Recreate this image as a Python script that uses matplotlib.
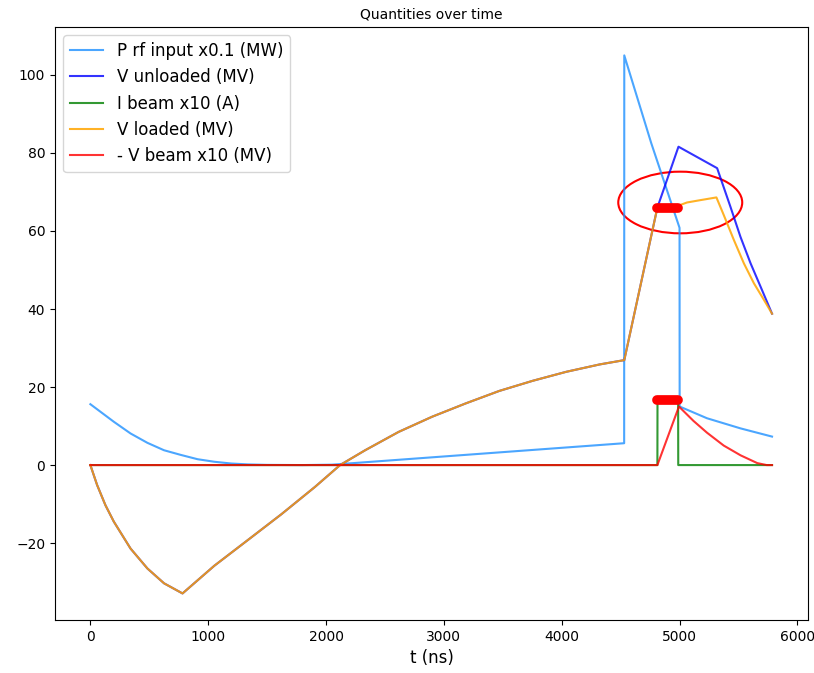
import matplotlib
matplotlib.use("Agg")
import matplotlib.pyplot as plt
from matplotlib.patches import Ellipse

# Values (t in ns)
t_rf = [0, 199, 341, 484, 625, 768, 910, 1052, 1195, 1337, 1500, 1800, 2050,
        4530, 4531, 4760, 5000, 5001, 5233, 5518, 5785]
p_rf = [15.6, 11.1, 8.1, 5.7, 3.8, 2.6, 1.5, 0.85, 0.4, 0.17, 0.05, 0.0, 0.1,
        5.6, 105.0, 82.5, 60.8, 15.0, 12.0, 9.4, 7.3]

t_unl = [0, 57, 128, 199, 341, 484, 625, 782, 1052, 1337, 1621, 1906, 2119,
         2332, 2616, 2901, 3185, 3470, 3754, 4038, 4323, 4531, 4812, 4991,
         5319, 5432, 5517, 5603, 5688, 5785]
v_unl = [0, -5.1, -10.3, -14.5, -21.4, -26.5, -30.3, -32.9, -25.8, -19.2, -12.6, -5.6, 0.0,
         3.8, 8.5, 12.4, 15.8, 19.0, 21.6, 23.9, 25.8, 26.9, 66.0, 81.6,
         76.1, 66.2, 58.5, 51.7, 45.7, 38.8]

t_beam = [0, 4812, 4813, 4988, 4989, 5785]
i_beam = [0, 0, 16.6, 16.6, 0, 0]

t_load = [0, 57, 128, 199, 341, 484, 625, 782, 1052, 1337, 1621, 1906, 2119,
          2332, 2616, 2901, 3185, 3470, 3754, 4038, 4323, 4531, 4812, 5000,
          5063, 5176, 5313, 5375, 5461, 5546, 5631, 5717, 5785]
v_load = [0, -5.1, -10.3, -14.5, -21.4, -26.5, -30.3, -32.9, -25.8, -19.2, -12.6, -5.6, 0.0,
          3.8, 8.5, 12.4, 15.8, 19.0, 21.6, 23.9, 25.8, 26.9, 66.0, 66.6,
          67.3, 67.9, 68.6, 64.1, 57.7, 51.7, 46.6, 42.3, 38.8]

t_vb = [0, 4812, 4995, 5119, 5233, 5375, 5518, 5660, 5740, 5785]
v_vb = [0, 0, 15.0, 11.3, 8.3, 5.0, 2.5, 0.5, 0.0, 0.0]

# flat top of the beam pulse, highlighted
flat_t = [4812, 4990]
flat_i = [16.6, 16.6]
flat_v = [66.0, 66.0]

fig = plt.figure(figsize=(8.14, 6.73), dpi=100)
ax = fig.add_axes([0.0676, 0.0788, 0.925, 0.8812])

ax.plot(t_rf, p_rf, color='dodgerblue', alpha=0.8, label='P rf input x0.1 (MW)')
ax.plot(t_unl, v_unl, color='blue', alpha=0.8, label='V unloaded (MV)')
ax.plot(t_beam, i_beam, color='green', alpha=0.8, label='I beam x10 (A)')
ax.plot(t_load, v_load, color='orange', alpha=0.85, label='V loaded (MV)')
ax.plot(t_vb, v_vb, color='red', alpha=0.8, label='- V beam x10 (MV)')

ax.plot(flat_t, flat_i, color='red', linewidth=7, solid_capstyle='round')
ax.plot(flat_t, flat_v, color='red', linewidth=7, solid_capstyle='round')

ax.add_patch(Ellipse((5006, 67.3), 1052, 15.8, fill=False, edgecolor='red', linewidth=1.5))

ax.set_xlim(-300, 6090)
ax.set_ylim(-39.7, 112.3)
ax.set_title('Quantities over time', fontsize=10)
ax.set_xlabel('t (ns)', fontsize=12)
ax.legend(fontsize=12, loc='upper left')

fig.savefig('out.png', dpi=100)
